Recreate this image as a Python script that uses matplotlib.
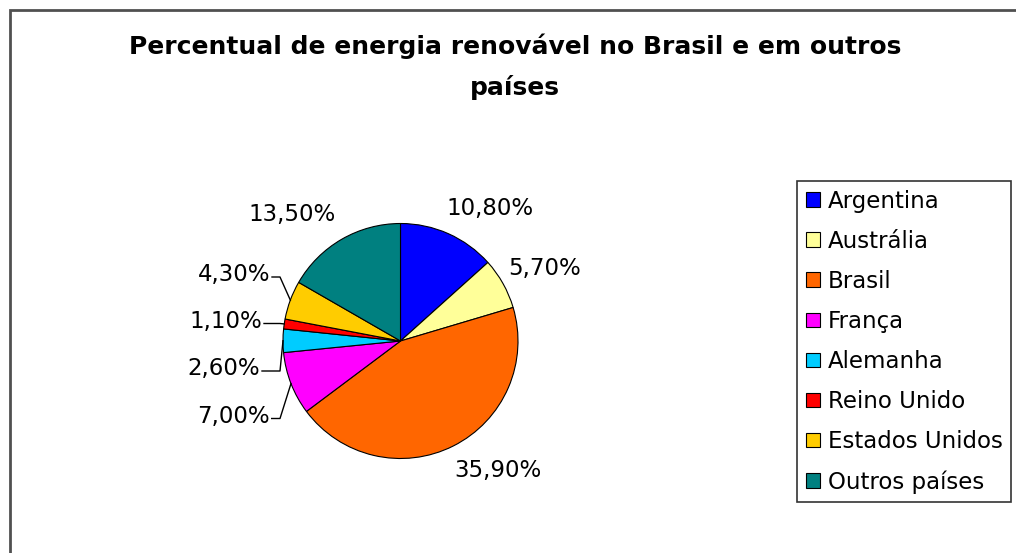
import numpy as np
import matplotlib
matplotlib.use('Agg')
from matplotlib import pyplot as plt
from matplotlib.patches import Rectangle

paises = ['Argentina', 'Austrália', 'Brasil', 'França', 'Alemanha',
          'Reino Unido', 'Estados Unidos', 'Outros países']
percentual = [10.80, 5.70, 35.90, 7.00, 2.60, 1.10, 4.30, 13.50]
cores = ['#0000FF', '#FFFF99', '#FF6600', '#FF00FF', '#00CCFF',
         '#FF0000', '#FFCC00', '#008080']
rotulos = [f'{v:.2f}%'.replace('.', ',') for v in percentual]

W, H = 1016, 553
plt.rcParams['font.family'] = ['DejaVu Sans']
fig = plt.figure(figsize=(W / 100, H / 100), dpi=100)
ax = fig.add_axes([0, 0, 1, 1])

centro = (400.5, H - 341)
raio = 117.5
wedges, _ = ax.pie(percentual, colors=cores, startangle=90, counterclock=False,
                   center=centro, radius=raio,
                   wedgeprops=dict(edgecolor='black', linewidth=0.8))
ax.set_xlim(0, W)
ax.set_ylim(0, H)
ax.set_aspect('equal')
ax.axis('off')

# posicao dos rotulos (pixels, relativo ao centro da pizza)
pos_rotulo = [(89.5, 132), (144, 73), (97, -129), (-166.8, -75.5),
              (-176.5, -28), (-174.5, 19.5), (-166.5, 66), (-108.5, 126)]
com_linha = [False, False, False, True, True, True, True, False]
joelho_dx = -120.5
fs = 16.5

for w, txt, (dx, dy), linha in zip(wedges, rotulos, pos_rotulo, com_linha):
    tx, ty = centro[0] + dx, centro[1] + dy
    ax.text(tx, ty, txt, ha='center', va='center', fontsize=fs)
    if linha:
        ang = np.deg2rad((w.theta1 + w.theta2) / 2)
        ex = centro[0] + raio * np.cos(ang)
        ey = centro[1] + raio * np.sin(ang)
        ax.plot([tx + 38, centro[0] + joelho_dx, ex], [ty - 2, ty - 2, ey],
                color='black', lw=1)

ax.text(515, H - 66.5, 'Percentual de energia renovável no Brasil e em outros\npaíses',
        ha='center', va='center', fontsize=18, fontweight='bold', linespacing=1.79)

leg = ax.legend(wedges, paises, loc='upper left', bbox_to_anchor=(797, H - 181),
                bbox_transform=ax.transData, fontsize=fs, frameon=True,
                fancybox=False, edgecolor='black', borderaxespad=0,
                borderpad=0.38, labelspacing=0.745, handlelength=0.61,
                handleheight=0.61, handletextpad=0.35)
leg.get_frame().set_linewidth(1.2)

# moldura do grafico (cortada a direita e embaixo)
ax.add_patch(Rectangle((9.5, -20), W + 40, H - 9.5 + 20, fill=False,
                       edgecolor='#505050', lw=2, clip_on=False))

plt.savefig('out.png', dpi=100)
